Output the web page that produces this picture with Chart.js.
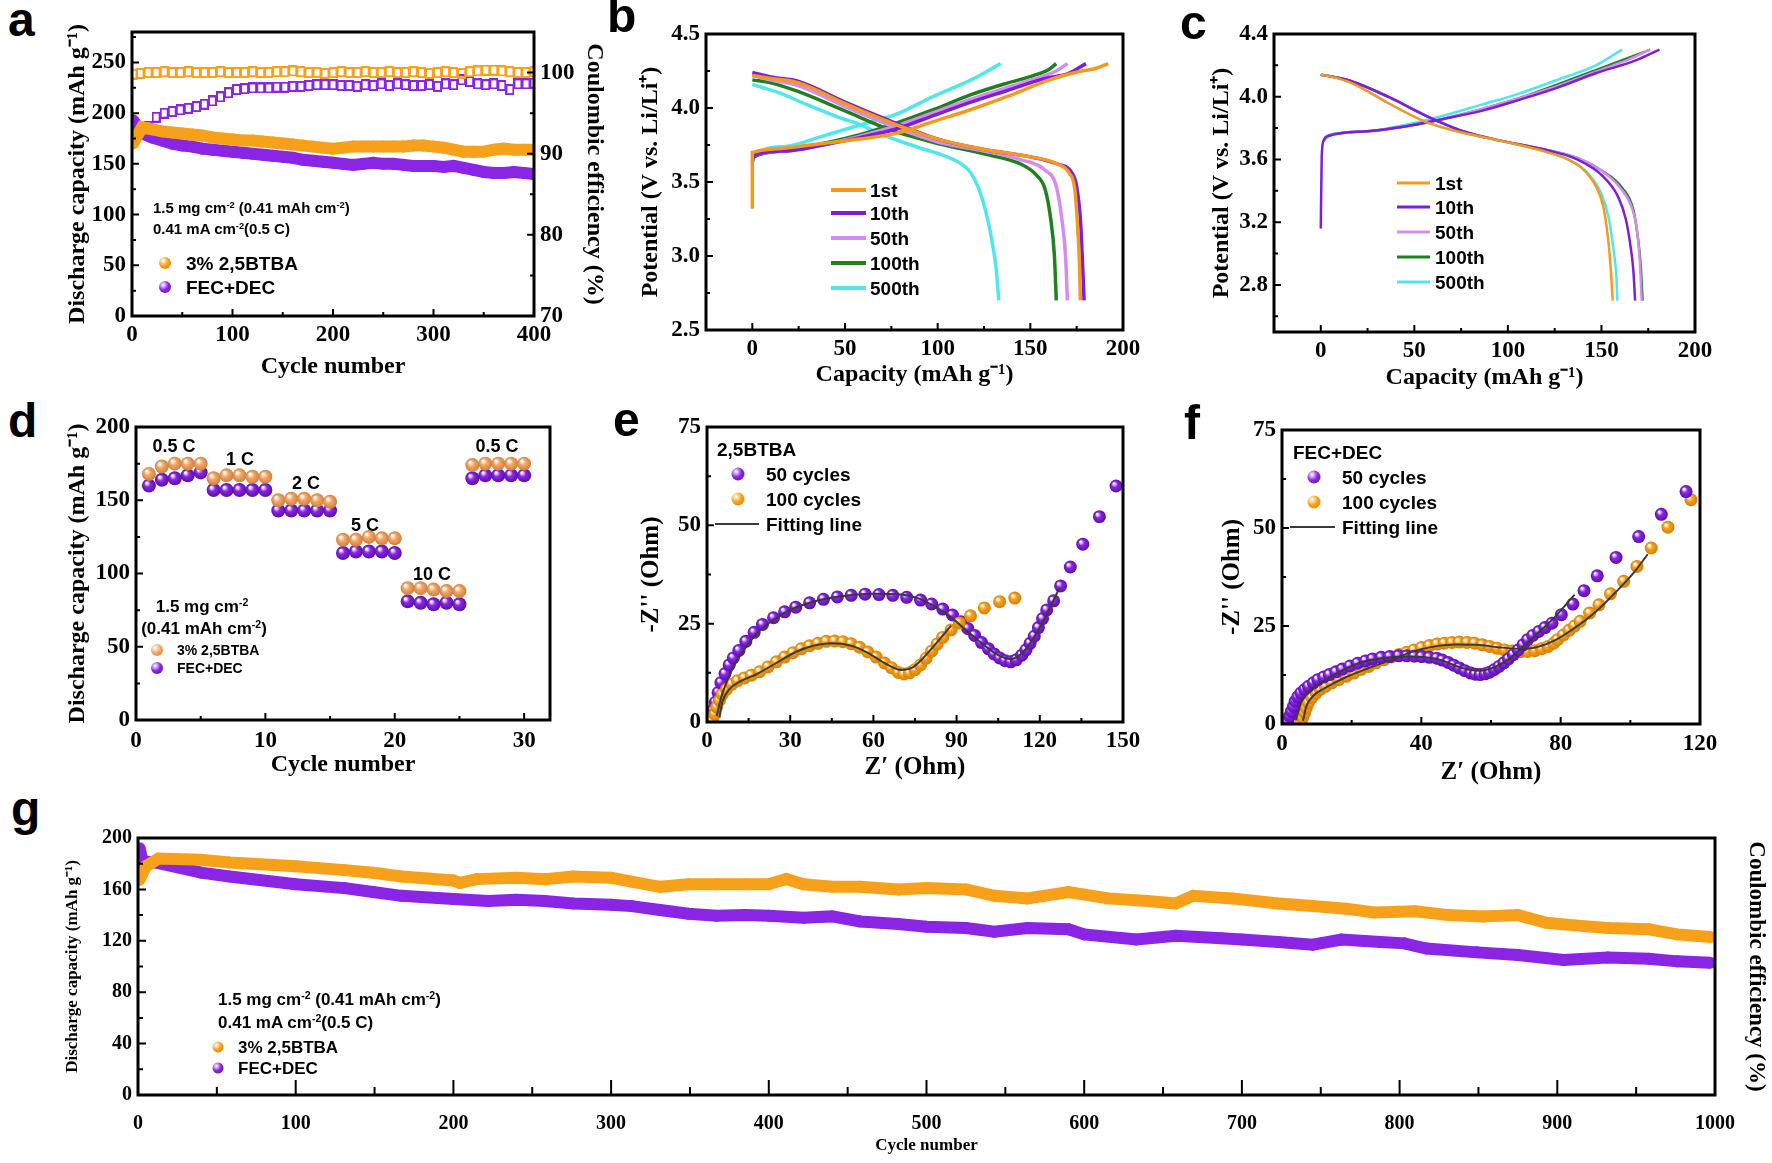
<!DOCTYPE html>
<html lang="en">
<head>
<meta charset="UTF-8">
<title>Cycling, charge/discharge and EIS</title>
<script src="https://cdn.jsdelivr.net/npm/chart.js"></script>
<style>
  body { margin: 0; background: #fff; width: 1772px; height: 1163px; position: relative; overflow: hidden;
         font-family: "Liberation Sans", Arial, sans-serif; }
  canvas { position: absolute; }
  .lbl { position: absolute; font-weight: bold; white-space: nowrap; transform: translateY(-50%); line-height: 1; color: #000; }
  .letter { position: absolute; font: bold 48px "Liberation Sans", Arial, sans-serif; line-height: 1; }
  .dot { position: absolute; border-radius: 50%; transform: translate(-50%, -50%); }
  .seg { position: absolute; transform: translateY(-50%); }
  sup { font-size: 0.62em; vertical-align: 0.5em; line-height: 0; }
</style>
</head>
<body>
<script>
  // ---- colours ----
  const ORANGE = '#F7A11A', ORANGE_D = '#D57E00';
  const PURPLE = '#8A25E6', PURPLE_D = '#5A0FA8';
  const PEACH = '#F3A767', PEACH_D = '#D07F3C';
  const CURVE = { '1st': '#F39A1E', '10th': '#7B1FD8', '50th': '#D58BEF', '100th': '#208020', '500th': '#4FE6EE' };

  // ---- (a) 400 cycles at 0.5 C ----
  const aCycles = [1, 10, 20, 30, 40, 50, 60, 70, 80, 90, 100, 110, 120, 130, 140, 150, 160, 170, 180, 190, 200,
                   210, 220, 230, 240, 250, 260, 270, 280, 290, 300, 310, 320, 330, 340, 350, 360, 370, 380, 390, 400];
  const aCapBtba = [170, 186, 184, 182, 181, 180, 179, 178, 176, 175, 174, 173, 173, 172, 171, 170, 169, 168, 167, 166, 165,
                    166, 167, 167, 167, 167, 167, 167, 168, 168, 167, 166, 164, 162, 162, 162, 164, 165, 164, 164, 164];
  const aCapFec = [193, 180, 176, 173, 170, 168, 167, 165, 164, 163, 162, 161, 160, 159, 158, 157, 156, 154, 153, 152, 151,
                   150, 149, 150, 151, 150, 150, 149, 148, 148, 148, 147, 148, 146, 144, 142, 141, 141, 142, 141, 140];
  const aCeCycles = [1, 8, 16, 24, 32, 40, 48, 56, 64, 72, 80, 88, 96, 104, 112, 120, 128, 136, 144, 152, 160, 168, 176,
                     184, 192, 200, 208, 216, 224, 232, 240, 248, 256, 264, 272, 280, 288, 296, 304, 312, 320, 328, 336,
                     344, 352, 360, 368, 376, 384, 392, 400];
  const aCeBtba = [99.8, 99.9, 100.0, 100.0, 100.1, 100.0, 100.0, 100.1, 100.0, 100.0,
                   100.0, 100.1, 100.0, 100.0, 100.0, 100.1, 100.0, 100.0, 100.1, 100.1,
                   100.2, 100.1, 100.0, 100.0, 99.9, 100.0, 100.1, 100.0, 100.0, 100.1,
                   100.0, 100.0, 100.1, 100.0, 100.0, 100.1, 100.0, 99.9, 100.0, 100.1,
                   100.0, 99.9, 100.1, 100.2, 100.3, 100.3, 100.2, 100.1, 100.0, 100.0, 100.1];
  const aCeFec = [93.5, 92.9, 93.4, 94.5, 95.0, 95.2, 95.4, 95.6, 95.8, 96.1,
                  96.5, 97.0, 97.5, 97.9, 98.0, 98.1, 98.1, 98.1, 98.2, 98.2,
                  98.3, 98.3, 98.4, 98.5, 98.5, 98.5, 98.4, 98.4, 98.3, 98.5,
                  98.4, 98.6, 98.4, 98.6, 98.5, 98.4, 98.4, 98.5, 98.3, 98.6,
                  98.5, 99.1, 98.9, 98.6, 98.5, 98.6, 98.4, 97.9, 98.6, 98.6, 98.7];

  // ---- (b) charge/discharge curves, 3% 2,5BTBA: [capacity, potential] ----
  const bCharge = {
    '1st':   [[0, 3.32], [0, 3.70], [3, 3.71], [18, 3.73], [38, 3.76], [58, 3.79], [78, 3.83], [98, 3.91], [118, 3.99], [138, 4.08], [158, 4.18], [168, 4.22], [178, 4.25], [186, 4.27], [192, 4.30]],
    '10th':  [[0, 3.64], [1, 3.68], [18, 3.71], [38, 3.75], [58, 3.80], [78, 3.86], [98, 3.95], [118, 4.04], [138, 4.12], [158, 4.20], [170, 4.23], [180, 4.30]],
    '50th':  [[0, 3.65], [1, 3.68], [18, 3.71], [38, 3.75], [58, 3.81], [78, 3.88], [98, 3.97], [118, 4.06], [138, 4.14], [158, 4.22], [164, 4.25], [170, 4.30]],
    '100th': [[0, 3.65], [1, 3.67], [18, 3.71], [38, 3.76], [58, 3.82], [78, 3.90], [98, 3.99], [118, 4.09], [138, 4.17], [152, 4.22], [160, 4.26], [164, 4.30]],
    '500th': [[0, 3.62], [1, 3.68], [18, 3.74], [38, 3.81], [58, 3.885], [78, 3.96], [98, 4.08], [118, 4.19], [134, 4.30]]
  };
  const bDischarge = {
    '1st':   [[0, 4.22], [10, 4.20], [25, 4.17], [50, 4.03], [75, 3.90], [100, 3.79], [125, 3.72], [150, 3.67], [165, 3.62], [171, 3.56], [174, 3.45], [175.5, 3.20], [176.5, 2.95], [177, 2.70]],
    '10th':  [[0, 4.24], [10, 4.21], [25, 4.18], [50, 4.04], [75, 3.91], [100, 3.79], [125, 3.72], [150, 3.67], [165, 3.62], [172, 3.57], [175, 3.47], [177, 3.25], [178, 3.00], [179, 2.70]],
    '50th':  [[0, 4.22], [10, 4.19], [25, 4.15], [50, 4.01], [75, 3.88], [100, 3.77], [125, 3.71], [145, 3.65], [158, 3.58], [164, 3.47], [167, 3.25], [169, 3.00], [170, 2.70]],
    '100th': [[0, 4.19], [10, 4.17], [25, 4.11], [50, 3.98], [75, 3.85], [100, 3.76], [125, 3.69], [145, 3.62], [153, 3.55], [158, 3.45], [161, 3.25], [163, 3.00], [164, 2.70]],
    '500th': [[0, 4.16], [5, 4.14], [15, 4.10], [28, 4.03], [48, 3.93], [58, 3.89], [68, 3.83], [88, 3.74], [105, 3.67], [113, 3.62], [118, 3.56], [122, 3.46], [126, 3.30], [129, 3.12], [131.5, 2.92], [133, 2.70]]
  };

  // ---- (c) charge/discharge curves, FEC+DEC ----
  const cCharge = {
    '10th':  [[0, 3.16], [0.5, 3.62], [1.5, 3.72], [4, 3.75], [25, 3.78], [45, 3.81], [66, 3.86], [86, 3.91], [106, 3.98], [127, 4.06], [147, 4.15], [168, 4.23], [181, 4.30]],
    '50th':  [[1.5, 3.72], [4, 3.75], [25, 3.78], [45, 3.81], [66, 3.86], [86, 3.92], [106, 3.99], [127, 4.07], [147, 4.16], [165, 4.24], [176, 4.30]],
    '100th': [[1.5, 3.72], [4, 3.75], [25, 3.78], [45, 3.81], [66, 3.86], [86, 3.92], [106, 3.99], [127, 4.08], [147, 4.17], [165, 4.25], [176, 4.30]],
    '500th': [[2, 3.74], [5, 3.76], [25, 3.78], [45, 3.82], [66, 3.88], [86, 3.95], [106, 4.02], [127, 4.11], [147, 4.20], [161, 4.30]]
  };
  const cDischarge = {
    '1st':   [[0, 4.14], [5, 4.13], [16, 4.09], [36, 3.96], [56, 3.84], [76, 3.77], [96, 3.72], [117, 3.66], [132, 3.60], [140, 3.54], [147, 3.43], [151, 3.30], [153.5, 3.10], [155, 2.90], [156, 2.70]],
    '10th':  [[0, 4.14], [5, 4.13], [16, 4.10], [36, 4.00], [56, 3.88], [76, 3.78], [96, 3.72], [117, 3.67], [137, 3.60], [151, 3.49], [159, 3.36], [163, 3.22], [165.5, 3.05], [167, 2.90], [168, 2.70]],
    '50th':  [[0, 4.14], [5, 4.13], [16, 4.10], [36, 4.00], [56, 3.88], [76, 3.78], [96, 3.72], [117, 3.67], [137, 3.61], [150, 3.53], [160, 3.42], [166, 3.30], [169, 3.15], [170.5, 2.95], [171.5, 2.70]],
    '100th': [[0, 4.14], [5, 4.13], [16, 4.10], [36, 4.00], [56, 3.88], [76, 3.78], [96, 3.72], [117, 3.67], [137, 3.61], [150, 3.53], [161, 3.42], [167, 3.28], [169.5, 3.10], [171, 2.92], [172, 2.70]],
    '500th': [[0, 4.14], [5, 4.13], [16, 4.09], [36, 3.96], [56, 3.84], [76, 3.77], [96, 3.72], [117, 3.66], [134, 3.59], [143, 3.51], [150, 3.38], [154, 3.22], [156.5, 3.02], [158, 2.85], [158.5, 2.70]]
  };
  const curveNames = ['1st', '10th', '50th', '100th', '500th'];

  // ---- (d) rate capability ----
  const dCycles = [1, 2, 3, 4, 5, 6, 7, 8, 9, 10, 11, 12, 13, 14, 15, 16, 17, 18, 19, 20, 21, 22, 23, 24, 25, 26, 27, 28, 29, 30];
  const dBtba = [168, 173, 175, 175, 175, 165, 167, 167, 166, 166, 150, 151, 151, 150, 149, 123, 123, 125, 124, 124, 90, 90, 89, 88, 88, 174, 175, 175, 175, 175];
  const dFec = [160, 164, 165, 167, 169, 157, 157, 157, 157, 157, 143, 143, 143, 143, 143, 114, 115, 115, 115, 114, 81, 80, 79, 80, 79, 165, 167, 167, 167, 167];
  const dRates = ['0.5 C', '1 C', '2 C', '5 C', '10 C', '0.5 C'];

  // ---- (e) EIS, 2,5BTBA: [Z', -Z''] ----
  const e50 = [[1.3, 0.8], [2.2, 3], [3, 5], [4, 7.5], [5, 10], [6.5, 12.3], [8, 14.5], [9.5, 16.3], [11.5, 18.2], [14, 20.5], [17, 22.8], [20, 24.8], [24, 26.5], [28, 28], [32, 29.2], [37, 30.3], [42, 31.2], [47, 31.8], [52, 32.2], [57, 32.5], [62, 32.4], [67, 32.2], [72, 31.7], [77, 31], [81, 30], [85, 28.7], [88.5, 27.2], [91.5, 25.5], [94, 23.8], [96.5, 22], [99, 20.2], [101.5, 18.6], [103.5, 17.3], [105.5, 16.3], [107.5, 15.6], [109.5, 15.3], [111.5, 15.8], [113.5, 17], [115, 18.3], [116.5, 20], [118, 21.8], [119.5, 24], [121, 26.3], [122.5, 28.5], [125, 30.8], [127.5, 34.6], [131, 39.4], [135.5, 45.2], [141.5, 52.2], [147.5, 60]];
  const e100 = [[2, 0.4], [2.8, 2], [3.5, 3.8], [4.5, 5.5], [5.5, 7], [7, 8.3], [9, 9.6], [11, 10.5], [13.5, 11.2], [16, 11.9], [19, 12.8], [22, 14], [25, 15.3], [28, 16.5], [31, 17.6], [34, 18.6], [37, 19.4], [40, 20], [43, 20.5], [46, 20.6], [49, 20.4], [52, 19.9], [55, 19], [58, 17.8], [61, 16.5], [64, 15], [66.5, 13.8], [69, 12.6], [71, 12.2], [73, 12.5], [75, 13.3], [77, 14.5], [79, 16.2], [81, 18], [83, 19.8], [85, 21.5], [88, 23.4], [91, 25.2], [95, 27], [100, 29], [105.5, 30.6], [111, 31.5]];
  const eFit50 = [[3.5, 1.5], [5, 6], [7, 10], [9.5, 14], [13, 18], [18, 22.5], [24, 26], [31, 28.8], [40, 30.9], [50, 32.1], [60, 32.6], [70, 32.4], [76, 31.5], [82, 29.4], [88, 26.6], [94, 23], [100, 19.5], [105, 17], [109, 16], [112, 16.6], [116, 19.5], [120, 24], [124, 29.5], [127, 34]];
  const eFit100 = [[4.5, 1.2], [5.5, 5], [8, 8.3], [12, 10.3], [18, 12.2], [25, 15], [32, 17.8], [38, 19.3], [45, 20], [52, 19.4], [58, 17.6], [64, 15], [70, 13.2], [74, 13.8], [78, 16.3], [83, 20.3], [88, 24.5]];

  // ---- (f) EIS, FEC+DEC ----
  const f50 = [[1.6, 0.7], [2.2, 2], [2.7, 3.2], [3.3, 4.5], [3.8, 5.8], [4.5, 6.9], [5.4, 7.9], [6.5, 8.8], [7.6, 9.6], [9, 10.5], [10.3, 11.3], [12, 12], [13.6, 12.6], [15.5, 13.3], [17.3, 14], [19.5, 14.8], [21.7, 15.5], [24, 16.1], [26, 16.6], [28.5, 17], [30.9, 17.2], [33.5, 17.4], [35.8, 17.4], [38, 17.3], [40.1, 17.2], [42.3, 17], [44.4, 16.8], [46, 16.3], [47.7, 15.7], [49.3, 15], [50.9, 14.3], [52.5, 13.6], [54.2, 13], [55.5, 12.7], [56.9, 12.6], [58.3, 12.8], [59.6, 13.2], [61, 13.9], [62.3, 14.7], [63.7, 15.6], [65, 16.6], [66.4, 17.7], [67.8, 18.9], [69.2, 20.2], [70.5, 21.5], [72, 22.6], [73.7, 23.6], [75.5, 24.6], [77.5, 25.7], [80.2, 27.9], [83.5, 30.6], [86.7, 34], [90.5, 37.8], [95.9, 42.5], [102.4, 47.8], [108.9, 53.5], [116, 59.3]];
  const f100 = [[5.4, 0.3], [5.9, 1.5], [6.5, 2.8], [7, 4.1], [7.6, 5.4], [8.6, 6.7], [9.8, 7.9], [11, 8.8], [12.5, 9.6], [14.3, 10.5], [16.3, 11.3], [18.5, 12.2], [20.6, 13], [22.7, 13.9], [24.9, 14.7], [27, 15.6], [29.3, 16.4], [31.5, 17.1], [33.6, 17.7], [35.8, 18.3], [37.9, 18.9], [40.1, 19.5], [42.3, 20], [44.5, 20.4], [46.6, 20.6], [48.8, 20.8], [50.9, 20.9], [53.1, 20.8], [55.3, 20.6], [57.5, 20.2], [59.6, 19.8], [61.8, 19.3], [63.9, 18.9], [66.1, 18.6], [68.3, 18.4], [70.5, 18.5], [72.6, 18.7], [74.5, 19.2], [76.4, 19.8], [78, 20.6], [79.1, 21.5], [80.8, 22.7], [82.4, 23.9], [84, 25], [85.6, 26.2], [88.3, 28.3], [91, 30.4], [94.3, 33.2], [98.1, 36.4], [101.9, 40.2], [106, 44.9], [110.8, 50.2], [117.4, 57.2]];
  const fFit50 = [[4, 1], [5.5, 5.5], [8, 8.5], [12, 11], [17, 13.5], [23, 15.8], [29, 16.8], [35, 17.2], [41, 17], [46, 16.2], [50, 14.8], [54, 13.8], [57, 13.6], [61, 14.5], [65, 16.5], [69, 19.5], [73, 22.8], [78, 27], [84, 33]];
  const fFit100 = [[6, 0.8], [7, 4.5], [9, 7.2], [13, 9.5], [18, 11.8], [25, 14.3], [32, 16.6], [38, 18.6], [44, 19.8], [50, 20.3], [56, 20.2], [62, 19.6], [68, 19.2], [73, 19.6], [78, 21.2], [84, 24.5], [90, 28.6], [96, 33.8], [101, 38.6], [105, 43.3]];

  // ---- (g) 1000 cycles: [cycle, capacity] ----
  const gBtba = [[1, 167.5], [5, 178], [13, 184], [40, 183], [58, 181], [100, 178], [131, 175], [149, 173], [167, 170], [200, 167], [204, 165], [215, 168], [240, 169], [258, 168], [276, 170], [300, 169], [313, 166], [331, 162], [349, 164], [367, 164], [385, 164], [400, 164], [411, 168], [422, 164], [440, 162], [458, 162], [482, 160], [500, 161], [525, 160], [543, 155], [564, 153], [590, 158], [615, 153], [640, 151], [658, 149], [669, 155], [694, 153], [723, 149], [745, 147], [766, 145], [784, 142], [810, 143], [831, 140], [853, 139], [875, 140], [893, 134], [911, 132], [932, 130], [958, 129], [976, 125], [997, 123]];
  const gFec = [[1, 192], [3, 182], [13, 180.5], [40, 173], [58, 170], [100, 164], [131, 161], [149, 158], [167, 155], [200, 152.5], [222, 151], [240, 152], [258, 151], [276, 149], [300, 148], [313, 147], [331, 144], [349, 141], [367, 139.5], [385, 140], [400, 139.5], [422, 138], [440, 139], [458, 135], [482, 133], [500, 131], [525, 130], [543, 127], [564, 130], [590, 129], [600, 125], [633, 121], [658, 124], [687, 122], [700, 121], [723, 119], [745, 117], [763, 121], [788, 119], [803, 118], [817, 114], [849, 111], [875, 109], [904, 105], [932, 107], [958, 106], [976, 104], [997, 103]];

  // ---- tick values / labels ----
  const aTicksX = [0, 100, 200, 300, 400], aTicksY = [0, 50, 100, 150, 200, 250], aTicksY1 = [70, 80, 90, 100];
  const bTicksX = [0, 50, 100, 150, 200], bTicksY = [2.5, 3.0, 3.5, 4.0, 4.5], bLabelsY = ['2.5', '3.0', '3.5', '4.0', '4.5'];
  const cTicksX = [0, 50, 100, 150, 200], cTicksY = [2.8, 3.2, 3.6, 4.0, 4.4], cLabelsY = ['2.8', '3.2', '3.6', '4.0', '4.4'];
  const dTicksX = [0, 10, 20, 30], dTicksY = [0, 50, 100, 150, 200];
  const eTicksX = [0, 30, 60, 90, 120, 150], eTicksY = [0, 25, 50, 75];
  const fTicksX = [0, 40, 80, 120], fTicksY = [0, 25, 50, 75];
  const gTicksX = [0, 100, 200, 300, 400, 500, 600, 700, 800, 900, 1000], gTicksY = [0, 40, 80, 120, 160, 200];

  const SERIF = '"Liberation Serif", "Times New Roman", serif';

  // box + inward tick marks, minor marks halfway between the major ones
  const frame = {
    id: 'frame',
    afterDraw(chart, args, opts) {
      const { ctx, chartArea: a } = chart;
      ctx.save();
      ctx.strokeStyle = '#000';
      ctx.lineWidth = 3;
      ctx.strokeRect(a.left, a.top, a.right - a.left, a.bottom - a.top);
      ctx.lineWidth = 2;
      for (const id of Object.keys(opts.marks || {})) {
        const s = chart.scales[id];
        const [maj, mnr] = opts.marks[id];
        const vals = s.ticks.map(t => t.value);
        const step = vals[1] - vals[0];
        const marks = vals.map(v => [v, maj]);
        for (let i = -1; i < vals.length; i++) {
          const m = vals[0] + (i + 0.5) * step;
          if (m > s.min && m < s.max) marks.push([m, mnr]);
        }
        ctx.beginPath();
        for (const [v, len] of marks) {
          const p = s.getPixelForValue(v);
          if (s.position === 'bottom') { ctx.moveTo(p, a.bottom); ctx.lineTo(p, a.bottom - len); }
          else if (s.position === 'left') { ctx.moveTo(a.left, p); ctx.lineTo(a.left + len, p); }
          else { ctx.moveTo(a.right, p); ctx.lineTo(a.right - len, p); }
        }
        ctx.stroke();
      }
      ctx.restore();
    }
  };

  // shaded ball markers: light spot at upper left, darker rim
  function sphere(color, dark) {
    return c => {
      if (c.type !== 'data' || !c.parsed) return color;
      const ch = c.chart, meta = ch.getDatasetMeta(c.datasetIndex);
      const xs = ch.scales[meta.xAxisID], ys = ch.scales[meta.yAxisID];
      if (!xs || !ys) return color;
      const px = xs.getPixelForValue(c.parsed.x);
      const py = ys.getPixelForValue(c.parsed.y);
      const r = c.dataset.pointRadius || 6;
      if (!isFinite(px) || !isFinite(py)) return color;
      const g = ch.ctx.createRadialGradient(px - r * 0.35, py - r * 0.4, r * 0.1, px, py, r);
      g.addColorStop(0, '#ffffff');
      g.addColorStop(0.4, color);
      g.addColorStop(1, dark);
      return g;
    };
  }

  // hollow, slightly tall rectangle used for the coulombic-efficiency points
  function hollowRect(color) {
    const cv = document.createElement('canvas');
    cv.width = 9; cv.height = 11;
    const x = cv.getContext('2d');
    x.strokeStyle = color;
    x.lineWidth = 2;
    x.strokeRect(1, 1, 7, 9);
    return cv;
  }

  function axis(o) {
    const horiz = o.position === 'bottom';
    return {
      type: 'linear', position: o.position, min: o.min, max: o.max,
      afterBuildTicks: s => { s.ticks = o.ticks.map(v => ({ value: v })); },
      afterFit: s => { if (horiz) s.height = o.size; else s.width = o.size; },
      grid: { display: false, drawTicks: false },
      border: { display: false },
      ticks: {
        display: !o.hide, padding: o.pad, color: '#000',
        font: { family: SERIF, weight: 'bold', size: o.fs },
        callback: (v, i) => o.labels ? o.labels[i] : v
      },
      title: {
        display: !!o.title, text: o.title, color: '#000',
        font: { family: SERIF, weight: 'bold', size: o.tfs }, padding: { top: 1, bottom: 1 }
      }
    };
  }

  function panel(p) {
    const cl = Math.round(p.yTitleX - p.tfs * 0.6 - 1);
    const cb = Math.round(p.xTitleY + p.xtfs * 0.6 + 1);
    const cr = p.right ? Math.round(p.right.titleX + p.right.tfs * 0.6 + 1) : p.R + 30;
    const ct = p.T - 20;
    const cv = document.createElement('canvas');
    cv.width = cr - cl;
    cv.height = cb - ct;
    cv.style.left = cl + 'px';
    cv.style.top = ct + 'px';
    document.body.appendChild(cv);
    const scales = {
      x: axis({ position: 'bottom', min: p.x[0], max: p.x[1], ticks: p.xTicks, size: cb - p.B, pad: p.xPad, fs: p.fs, title: p.xTitle, tfs: p.xtfs }),
      y: axis({ position: 'left', min: p.y[0], max: p.y[1], ticks: p.yTicks, labels: p.yLabels, size: p.L - cl, pad: 6, fs: p.fs, title: p.yTitle, tfs: p.tfs })
    };
    if (p.right) {
      scales.y1 = axis(Object.assign({ position: 'right', size: cr - p.R, pad: 6, fs: p.fs }, p.right));
    }
    return new Chart(cv, {
      type: 'scatter',
      data: { datasets: p.datasets },
      options: {
        responsive: false, animation: false, devicePixelRatio: 1,
        layout: { padding: { top: p.T - ct, right: p.right ? 0 : cr - p.R, left: 0, bottom: 0 } },
        plugins: { legend: { display: false }, tooltip: { enabled: false }, frame: { marks: p.marks } },
        scales
      },
      plugins: [frame]
    });
  }

  const band = (data, color, yAxisID = 'y') => ({
    data, yAxisID, showLine: true, borderColor: color, borderWidth: 12,
    pointRadius: 6, pointBorderWidth: 0, pointBackgroundColor: color
  });
  const curve = (data, color, w) => ({
    data, showLine: true, borderColor: color, borderWidth: w, pointRadius: 0, cubicInterpolationMode: 'monotone'
  });
  const balls = (data, color, dark, r) => ({
    data, pointRadius: r, pointBorderWidth: 0, pointBackgroundColor: sphere(color, dark)
  });
  const fit = data => curve(data, '#3a3a3a', 2);
  const pairs = (xs, ys) => xs.map((x, i) => [x, ys[i]]);

  // (a)
  panel({
    L: 132, T: 32, R: 534, B: 316, x: [0, 400], y: [0, 280], xTicks: aTicksX, yTicks: aTicksY,
    xTitle: 'Cycle number', yTitle: 'Discharge capacity (mAh g\u207B\u00B9)',
    yTitleX: 77, xTitleY: 367, fs: 23, tfs: 24, xtfs: 24, xPad: 5,
    right: { min: 70, max: 105, ticks: aTicksY1, title: 'Coulombic efficiency (%)', titleX: 595, tfs: 24 },
    marks: { x: [7, 4], y: [7, 4], y1: [7, 4] },
    datasets: [
      band(pairs(aCycles, aCapBtba), ORANGE),
      band(pairs(aCycles, aCapFec), PURPLE),
      { data: pairs(aCeCycles, aCeBtba), yAxisID: 'y1', pointStyle: hollowRect(ORANGE), pointRadius: 5 },
      { data: pairs(aCeCycles, aCeFec), yAxisID: 'y1', pointStyle: hollowRect(PURPLE), pointRadius: 5 }
    ]
  });

  // (b)
  panel({
    L: 706, T: 34, R: 1123, B: 330, x: [-25, 200], y: [2.5, 4.5], xTicks: bTicksX, yTicks: bTicksY, yLabels: bLabelsY,
    xTitle: 'Capacity (mAh g\u207B\u00B9)', yTitle: 'Potential (V vs. Li/Li\u207A)',
    yTitleX: 650, xTitleY: 375, fs: 23, tfs: 24, xtfs: 24, xPad: 5,
    marks: { x: [7, 4], y: [7, 4] },
    datasets: curveNames.flatMap(n => [curve(bDischarge[n], CURVE[n], 3.5), curve(bCharge[n], CURVE[n], 3.5)])
  });

  // (c)
  panel({
    L: 1274, T: 34, R: 1695, B: 332, x: [-25, 200], y: [2.5, 4.4], xTicks: cTicksX, yTicks: cTicksY, yLabels: cLabelsY,
    xTitle: 'Capacity (mAh g\u207B\u00B9)', yTitle: 'Potential (V vs. Li/Li\u207A)',
    yTitleX: 1221, xTitleY: 378, fs: 23, tfs: 24, xtfs: 24, xPad: 5,
    marks: { x: [7, 4], y: [7, 4] },
    datasets: curveNames.flatMap(n => {
      const out = [curve(cDischarge[n], CURVE[n], 2.5)];
      if (cCharge[n]) out.push(curve(cCharge[n], CURVE[n], 2.5));
      return out;
    })
  });

  // (d)
  panel({
    L: 136, T: 427, R: 550, B: 720, x: [0, 32], y: [0, 200], xTicks: dTicksX, yTicks: dTicksY,
    xTitle: 'Cycle number', yTitle: 'Discharge capacity (mAh g\u207B\u00B9)',
    yTitleX: 77, xTitleY: 765, fs: 23, tfs: 24, xtfs: 24, xPad: 7,
    marks: { x: [7, 4], y: [7, 4] },
    datasets: [
      balls(pairs(dCycles, dBtba), PEACH, PEACH_D, 7),
      balls(pairs(dCycles, dFec), PURPLE, PURPLE_D, 7)
    ]
  });

  // (e)
  panel({
    L: 707, T: 427, R: 1123, B: 722, x: [0, 150], y: [0, 75], xTicks: eTicksX, yTicks: eTicksY,
    xTitle: 'Z\u2032 (Ohm)', yTitle: "-Z'' (Ohm)",
    yTitleX: 652, xTitleY: 768, fs: 23, tfs: 25, xtfs: 25, xPad: 5,
    marks: { x: [7, 4], y: [7, 4] },
    datasets: [fit(eFit50), fit(eFit100), balls(e100, ORANGE, ORANGE_D, 6.5), balls(e50, PURPLE, PURPLE_D, 6.5)]
  });

  // (f)
  panel({
    L: 1282, T: 430, R: 1700, B: 724, x: [0, 120], y: [0, 75], xTicks: fTicksX, yTicks: fTicksY,
    xTitle: 'Z\u2032 (Ohm)', yTitle: "-Z'' (Ohm)",
    yTitleX: 1233, xTitleY: 773, fs: 23, tfs: 25, xtfs: 25, xPad: 6,
    marks: { x: [7, 4], y: [7, 4] },
    datasets: [fit(fFit50), fit(fFit100), balls(f50, PURPLE, PURPLE_D, 6.5), balls(f100, ORANGE, ORANGE_D, 6.5)]
  });

  // (g)
  panel({
    L: 138, T: 838, R: 1715, B: 1095, x: [0, 1000], y: [0, 200], xTicks: gTicksX, yTicks: gTicksY,
    xTitle: 'Cycle number', yTitle: 'Discharge capacity (mAh g\u207B\u00B9)',
    yTitleX: 72, xTitleY: 1146, fs: 20, tfs: 17, xtfs: 17, xPad: 17,
    right: { min: 0, max: 1, ticks: [0, 1], hide: true, title: 'Coulombic efficiency (%)', titleX: 1756, tfs: 23 },
    marks: { x: [15, 8], y: [8, 5] },
    datasets: [band(gBtba, ORANGE), band(gFec, PURPLE)]
  });

  // ---- text, legends and panel letters ----
  function txt(html, x, y, size, center) {
    const d = document.createElement('div');
    d.className = 'lbl';
    d.innerHTML = html;
    d.style.left = x + 'px';
    d.style.top = y + 'px';
    d.style.fontSize = size + 'px';
    if (center) d.style.transform = 'translate(-50%, -50%)';
    document.body.appendChild(d);
  }
  function dot(x, y, size, color, dark) {
    const d = document.createElement('div');
    d.className = 'dot';
    Object.assign(d.style, { left: x + 'px', top: y + 'px', width: size + 'px', height: size + 'px',
      background: `radial-gradient(circle at 35% 32%, #fff 0%, ${color} 45%, ${dark} 100%)` });
    document.body.appendChild(d);
  }
  function seg(x1, x2, y, h, color) {
    const d = document.createElement('div');
    d.className = 'seg';
    Object.assign(d.style, { left: x1 + 'px', top: y + 'px', width: (x2 - x1) + 'px', height: h + 'px', background: color });
    document.body.appendChild(d);
  }
  function letter(ch, x, y) {
    const d = document.createElement('div');
    d.className = 'letter';
    d.textContent = ch;
    d.style.left = x + 'px';
    d.style.top = y + 'px';
    document.body.appendChild(d);
  }

  const loading = '1.5 mg cm<sup>-2</sup> (0.41 mAh cm<sup>-2</sup>)';
  const current = '0.41 mA cm<sup>-2</sup>(0.5 C)';
  const seriesNames = ['3% 2,5BTBA', 'FEC+DEC'];

  // a
  txt(loading, 153, 207, 15);
  txt(current, 153, 228, 15);
  dot(165, 263, 12, ORANGE, ORANGE_D); txt(seriesNames[0], 186, 263, 19);
  dot(165, 287, 12, PURPLE, PURPLE_D); txt(seriesNames[1], 186, 287, 19);

  // b, c
  curveNames.forEach((n, i) => {
    const yb = [190, 213, 238, 263, 288][i];
    seg(831, 866, yb, 4, CURVE[n]); txt(n, 870, yb, 19);
    const yc = [183, 207, 232, 257, 282][i];
    seg(1397, 1430, yc, 3, CURVE[n]); txt(n, 1435, yc, 19);
  });

  // d
  const ratePos = [[174, 446], [240, 459], [306, 483], [365, 525], [432, 574], [497, 446]];
  dRates.forEach((r, i) => txt(r, ratePos[i][0], ratePos[i][1], 18, true));
  txt('1.5 mg cm<sup>-2</sup>', 202, 606, 17, true);
  txt('(0.41 mAh cm<sup>-2</sup>)', 204, 628, 17, true);
  dot(157, 650, 12, PEACH, PEACH_D); txt(seriesNames[0], 177, 650, 14);
  dot(157, 668, 12, PURPLE, PURPLE_D); txt(seriesNames[1], 177, 668, 14);

  // e
  txt('2,5BTBA', 717, 449, 19);
  dot(738, 474, 13, PURPLE, PURPLE_D); txt('50 cycles', 766, 474, 19);
  dot(738, 499, 13, ORANGE, ORANGE_D); txt('100 cycles', 766, 499, 19);
  seg(715, 759, 524, 2, '#3a3a3a'); txt('Fitting line', 766, 524, 19);

  // f
  txt('FEC+DEC', 1293, 452, 19);
  dot(1314, 477, 13, PURPLE, PURPLE_D); txt('50 cycles', 1342, 477, 19);
  dot(1314, 502, 13, ORANGE, ORANGE_D); txt('100 cycles', 1342, 502, 19);
  seg(1290, 1335, 527, 2, '#3a3a3a'); txt('Fitting line', 1342, 527, 19);

  // g
  txt(loading, 218, 999, 17);
  txt(current, 218, 1022, 17);
  dot(218, 1047, 11, ORANGE, ORANGE_D); txt(seriesNames[0], 238, 1047, 17);
  dot(218, 1068, 11, PURPLE, PURPLE_D); txt(seriesNames[1], 238, 1068, 17);

  letter('a', 8, -4);
  letter('b', 607, -8);
  letter('c', 1180, -1);
  letter('d', 8, 397);
  letter('e', 613, 396);
  letter('f', 1184, 399);
  letter('g', 11, 785);
</script>
</body>
</html>
